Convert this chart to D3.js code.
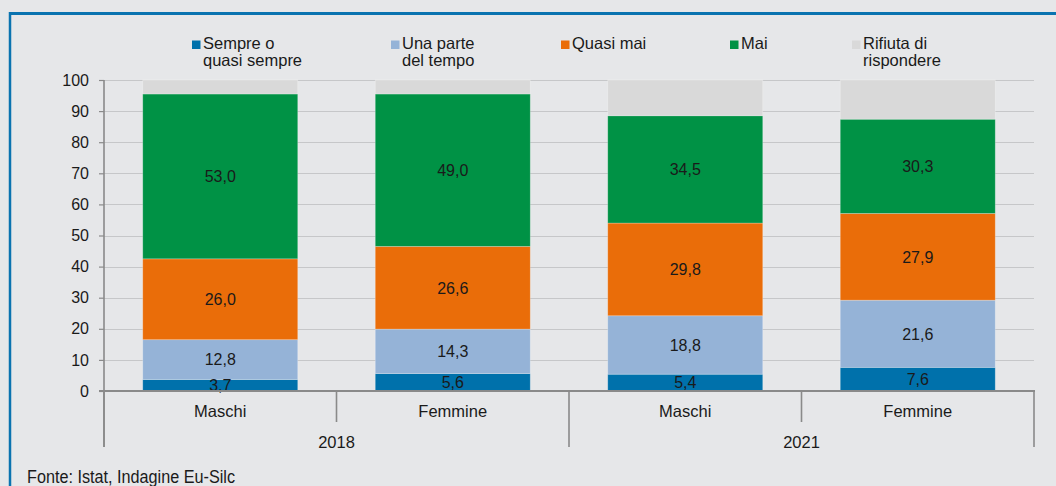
<!DOCTYPE html>
<html>
<head>
<meta charset="utf-8">
<script src="https://cdn.jsdelivr.net/npm/d3@7/dist/d3.min.js"></script>
<style>
  html, body { margin: 0; padding: 0; background: #e6e7e9; }
  svg { display: block; }
  text { font-family: "Liberation Sans", Arial, sans-serif; fill: #1a1a1a; }
</style>
</head>
<body>
<svg id="chart" width="1056" height="486"></svg>
<script>
// Categories: sex within survey year
const years = ["2018", "2021"];
const sexes = ["Maschi", "Femmine"];
const categories = ["2018 Maschi", "2018 Femmine", "2021 Maschi", "2021 Femmine"];

// Series (percent shares)
const seriesNames = ["Sempre o quasi sempre", "Una parte del tempo", "Quasi mai", "Mai", "Rifiuta di rispondere"];
const legendLines = [["Sempre o", "quasi sempre"], ["Una parte", "del tempo"], ["Quasi mai"], ["Mai"], ["Rifiuta di", "rispondere"]];
const sempre   = [3.7, 5.6, 5.4, 7.6];
const unaParte = [12.8, 14.3, 18.8, 21.6];
const quasiMai = [26.0, 26.6, 29.8, 27.9];
const mai      = [53.0, 49.0, 34.5, 30.3];
const rifiuta  = [4.5, 4.5, 11.5, 12.6];
const yTicks = [0, 10, 20, 30, 40, 50, 60, 70, 80, 90, 100];
const source = "Fonte: Istat, Indagine Eu-Silc";

const colors = ["#0071ab", "#95b3d7", "#ea6d09", "#009245", "#d9d9d9"];
const showLabel = [true, true, true, true, false];

const svg = d3.select("#chart");

// Frame: blue rule on top and left
svg.append("line").attr("x1", 10).attr("x2", 1056).attr("y1", 13.5).attr("y2", 13.5)
  .attr("stroke", "#0a73b0").attr("stroke-width", 3);
svg.append("line").attr("x1", 10).attr("x2", 10).attr("y1", 12).attr("y2", 486)
  .attr("stroke", "#0a73b0").attr("stroke-width", 2.5);

const plotL = 104, plotR = 1034, plotT = 80, plotB = 391;

const x = d3.scaleBand().domain(categories).range([plotL, plotR])
  .paddingInner(1 / 3).paddingOuter(1 / 6);
const y = d3.scaleLinear().domain([0, 100]).range([plotB, plotT]);

// Gridlines
svg.append("g").selectAll("line").data(yTicks.filter(t => t > 0)).join("line")
  .attr("x1", plotL).attr("x2", plotR)
  .attr("y1", d => Math.round(y(d)) + 0.5).attr("y2", d => Math.round(y(d)) + 0.5)
  .attr("stroke", "#c6c7c9").attr("stroke-width", 1.2);

// Stacked data
const rows = categories.map((c, i) => ({
  cat: c, s0: sempre[i], s1: unaParte[i], s2: quasiMai[i], s3: mai[i], s4: rifiuta[i]
}));
const keys = ["s0", "s1", "s2", "s3", "s4"];
const stacked = d3.stack().keys(keys)(rows);

const layers = svg.append("g").selectAll("g").data(stacked).join("g")
  .attr("fill", (d, i) => colors[i]);
layers.selectAll("rect").data(d => d).join("rect")
  .attr("x", d => x(d.data.cat))
  .attr("width", x.bandwidth())
  .attr("y", d => y(d[1]))
  .attr("height", d => y(d[0]) - y(d[1]))
  .attr("stroke", "rgba(255,255,255,0.3)")
  .attr("stroke-width", 0.8);

// Value labels
const fmt = v => d3.format(".1f")(v).replace(".", ",");
stacked.forEach((layer, i) => {
  if (!showLabel[i]) return;
  svg.append("g").selectAll("text").data(layer).join("text")
    .attr("x", d => x(d.data.cat) + x.bandwidth() / 2)
    .attr("y", d => y((d[0] + d[1]) / 2))
    .attr("dy", "0.36em")
    .attr("text-anchor", "middle")
    .attr("font-size", 16)
    .text(d => fmt(d[1] - d[0]));
});

// Y axis
const yAxis = d3.axisLeft(y).tickValues(yTicks).tickSize(5).tickPadding(10);
const ya = svg.append("g").attr("transform", `translate(${plotL},0)`).call(yAxis);
ya.select(".domain").remove();
ya.selectAll(".tick line").attr("stroke", "#8a8a8a").attr("stroke-width", 1.2);
ya.selectAll(".tick text").attr("font-size", 16).attr("font-family", "Liberation Sans, Arial, sans-serif")
  .attr("fill", "#1a1a1a");
svg.append("line").attr("x1", plotL).attr("x2", plotL).attr("y1", plotT).attr("y2", 447)
  .attr("stroke", "#8a8a8a").attr("stroke-width", 1.6);

// X axis baseline
svg.append("line").attr("x1", plotL - 5).attr("x2", plotR + 1).attr("y1", plotB).attr("y2", plotB)
  .attr("stroke", "#8a8a8a").attr("stroke-width", 2);

// Two-level category axis
const step = x.step();
const groupEdges = [plotL, (plotL + plotR) / 2, plotR];
svg.append("g").selectAll("line").data(groupEdges).join("line")
  .attr("x1", d => d).attr("x2", d => d).attr("y1", plotB).attr("y2", 447)
  .attr("stroke", "#8a8a8a").attr("stroke-width", 1.6);
const innerEdges = years.map(yr => x(`${yr} ${sexes[1]}`) - step * x.paddingInner() / 2);
svg.append("g").selectAll("line").data(innerEdges).join("line")
  .attr("x1", d => d).attr("x2", d => d).attr("y1", plotB).attr("y2", 422)
  .attr("stroke", "#8a8a8a").attr("stroke-width", 1.6);

svg.append("g").selectAll("text").data(categories).join("text")
  .attr("x", d => x(d) + x.bandwidth() / 2)
  .attr("y", 417)
  .attr("text-anchor", "middle")
  .attr("font-size", 16.5)
  .text(d => d.split(" ")[1]);

svg.append("g").selectAll("text").data(years).join("text")
  .attr("x", (d, i) => (groupEdges[i] + groupEdges[i + 1]) / 2)
  .attr("y", 448)
  .attr("text-anchor", "middle")
  .attr("font-size", 16.5)
  .text(d => d);

// Legend
const legendX = [192, 391, 561, 730, 852];
const lg = svg.append("g").selectAll("g").data(seriesNames).join("g")
  .attr("transform", (d, i) => `translate(${legendX[i]},0)`);
lg.append("rect").attr("x", 0).attr("y", 40.5).attr("width", 8.5).attr("height", 8.5)
  .attr("fill", (d, i) => colors[i]);
lg.each(function (d, i) {
  const t = d3.select(this).append("text").attr("x", 11).attr("y", 49).attr("font-size", 16.5);
  legendLines[i].forEach((ln, j) => {
    t.append("tspan").attr("x", 11).attr("dy", j === 0 ? 0 : 17).text(ln);
  });
});

// Source note
svg.append("text").attr("x", 27).attr("y", 483).attr("font-size", 17.5)
  .attr("textLength", 208).attr("lengthAdjust", "spacingAndGlyphs")
  .text(source);
</script>
</body>
</html>
